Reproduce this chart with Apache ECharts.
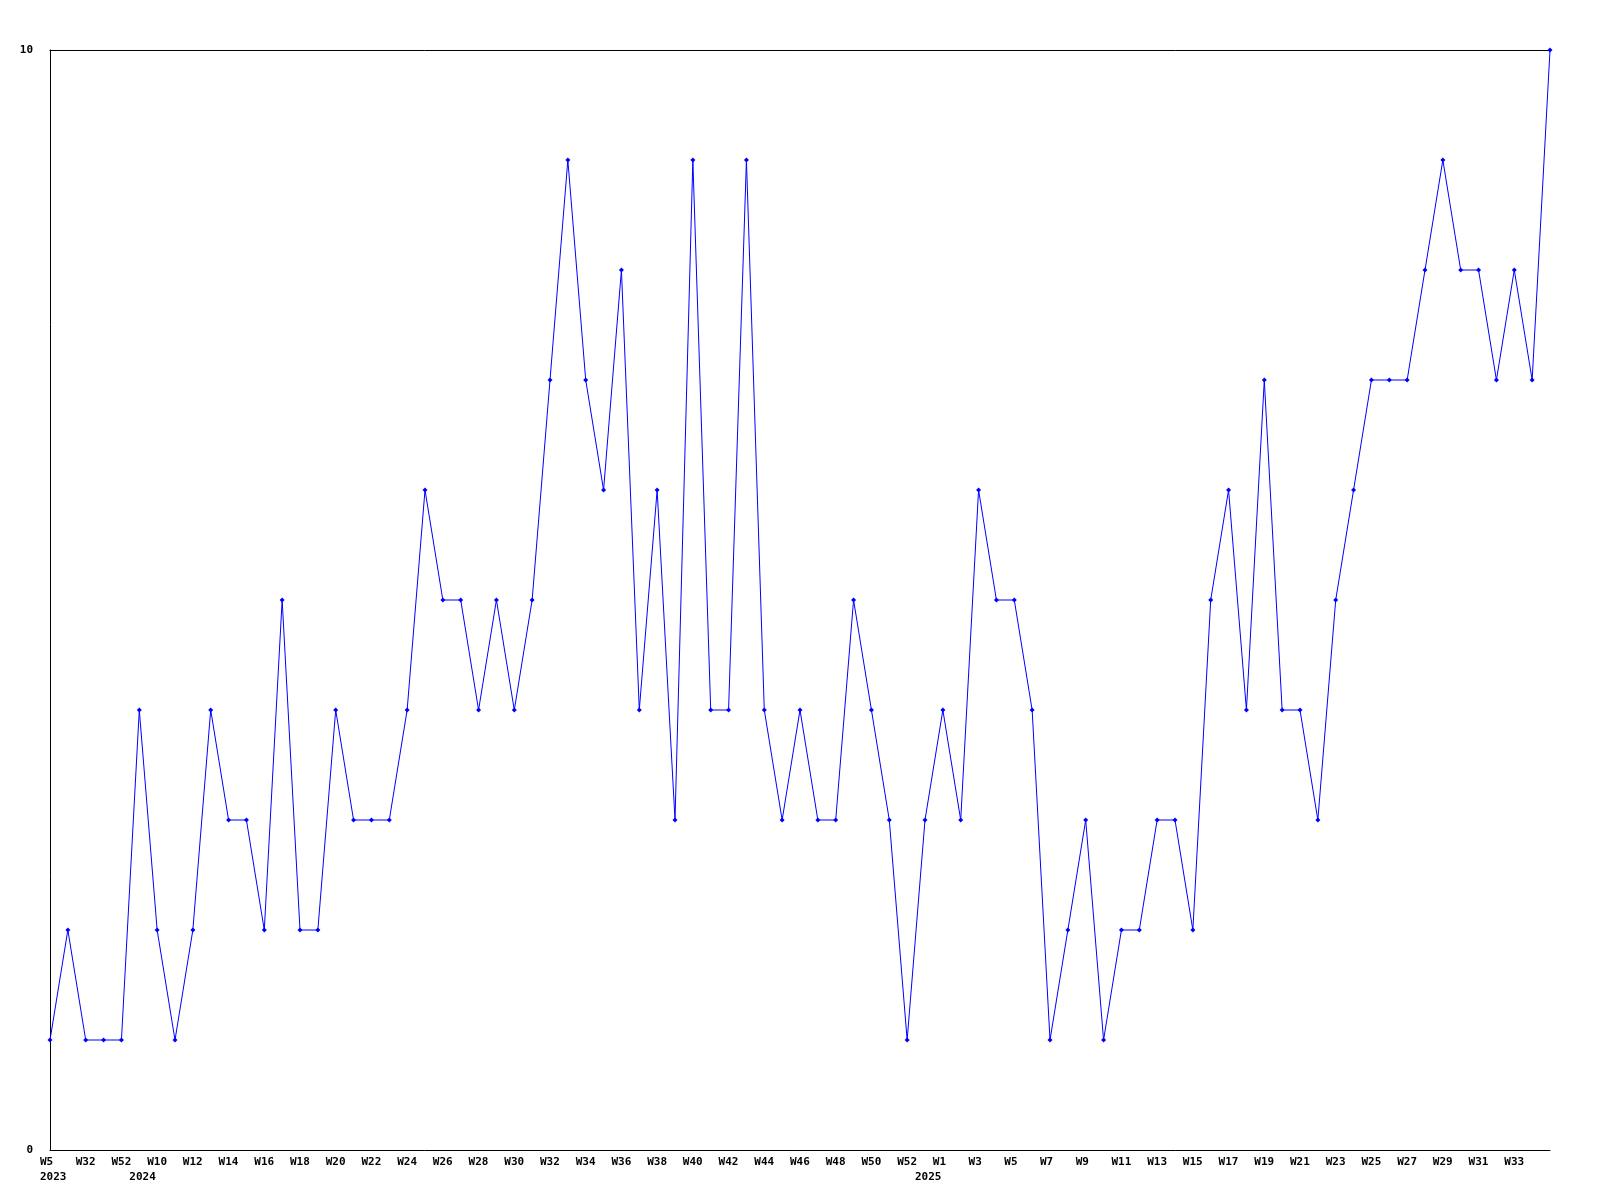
<!DOCTYPE html>
<html>
<head>
<meta charset="utf-8">
<style>
  html, body { margin: 0; padding: 0; background: #ffffff; }
  #chart { width: 1600px; height: 1200px; }
</style>
<script src="https://cdn.jsdelivr.net/npm/echarts@6/dist/echarts.min.js"></script>
</head>
<body>
<div id="chart"></div>
<script>
// Week categories (every other one is labelled on the axis)
const weeks = [
  'W5','W18','W32','W44','W52','W8','W10','W11','W12','W13',
  'W14','W15','W16','W17','W18','W19','W20','W21','W22','W23',
  'W24','W25','W26','W27','W28','W29','W30','W31','W32','W33',
  'W34','W35','W36','W37','W38','W39','W40','W41','W42','W43',
  'W44','W45','W46','W47','W48','W49','W50','W51','W52','W53',
  'W1','W2','W3','W4','W5','W6','W7','W8','W9','W10',
  'W11','W12','W13','W14','W15','W16','W17','W18','W19','W20',
  'W21','W22','W23','W24','W25','W26','W27','W28','W29','W30',
  'W31','W32','W33','W34','W35'
];
// Year marks: category index -> year text
const yearIndex = [0, 5, 49];
const yearText = ['2023', '2024', '2025'];

const values = [
  1, 2, 1, 1, 1, 4, 2, 1, 2, 4,
  3, 3, 2, 5, 2, 2, 4, 3, 3, 3,
  4, 6, 5, 5, 4, 5, 4, 5, 7, 9,
  7, 6, 8, 4, 6, 3, 9, 4, 4, 9,
  4, 3, 4, 3, 3, 5, 4, 3, 1, 3,
  4, 3, 6, 5, 5, 4, 1, 2, 3, 1,
  2, 2, 3, 3, 2, 5, 6, 4, 7, 4,
  4, 3, 5, 6, 7, 7, 7, 8, 9, 8,
  8, 7, 8, 7, 10
];

const yTicks = [0, 10];

const FONT = '"DejaVu Sans Mono", "Liberation Mono", monospace';
const textStyle = { fontFamily: FONT, fontWeight: 'bold', fontSize: 11, color: '#000', lineHeight: 15, width: 20, align: 'left' };

const chart = echarts.init(document.getElementById('chart'), null, { renderer: 'canvas' });
chart.setOption({
  animation: false,
  backgroundColor: '#ffffff',
  grid: { left: 50, right: 50, top: 50, bottom: 50, containLabel: false },
  xAxis: [{
    type: 'category',
    data: weeks,
    boundaryGap: false,
    position: 'bottom',
    axisLine: { show: true, lineStyle: { color: '#000', width: 1 } },
    axisTick: { show: false },
    splitLine: { show: false },
    axisLabel: {
      show: true,
      margin: 5,
      hideOverlap: false,
      interval: function (index) {
        return (index % 2 === 0 && index < weeks.length - 1) || yearIndex.indexOf(index) >= 0;
      },
      formatter: function (value, index) {
        const yi = yearIndex.indexOf(index);
        const w = index % 2 === 0 ? value : ' ';
        return '{w|' + w + '}' + (yi >= 0 ? '\n{y|' + yearText[yi] + '}' : '');
      },
      rich: { w: textStyle, y: textStyle }
    }
  }, {
    type: 'category',
    data: weeks,
    boundaryGap: false,
    position: 'top',
    axisLine: { show: true, lineStyle: { color: '#000', width: 1 } },
    axisTick: { show: false },
    axisLabel: { show: false },
    splitLine: { show: false }
  }],
  yAxis: {
    type: 'value',
    min: yTicks[0],
    max: yTicks[yTicks.length - 1],
    interval: yTicks[1] - yTicks[0],
    axisLine: { show: true, lineStyle: { color: '#000', width: 1 } },
    axisTick: { show: false },
    splitLine: { show: false },
    axisLabel: { margin: 17, fontFamily: FONT, fontWeight: 'bold', fontSize: 11, color: '#000' }
  },
  series: [{
    type: 'line',
    data: values,
    xAxisIndex: 0,
    symbol: 'diamond',
    symbolSize: 5,
    showAllSymbol: true,
    lineStyle: { color: '#0000ff', width: 1 },
    itemStyle: { color: '#0000ff' },
    clip: false
  }]
});
</script>
</body>
</html>
